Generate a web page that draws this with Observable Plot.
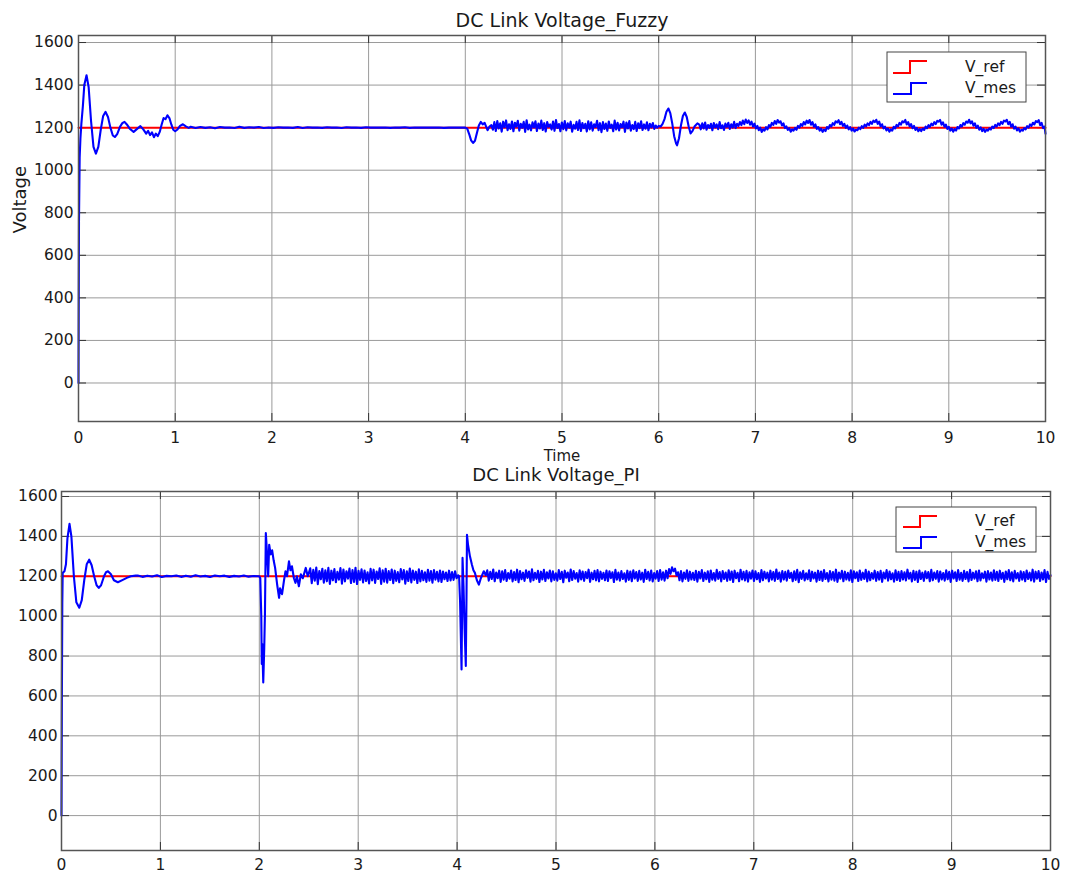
<!DOCTYPE html>
<html><head><meta charset="utf-8">
<script src="https://cdn.jsdelivr.net/npm/d3@7"></script>
<script src="https://cdn.jsdelivr.net/npm/@observablehq/plot@0.6"></script>
<style>
body{margin:0;background:#fff;}
#wrap{position:relative;width:1067px;height:873px;overflow:hidden;background:#fff;font-family:"DejaVu Sans",sans-serif;}
#top,#bot{position:absolute;left:0;}
#top{top:0}
#bot{top:463px}
.leg{position:absolute;left:0;top:0;pointer-events:none}
</style></head><body><div id="wrap"><div id="top"></div><div id="bot"></div></div>
<script>
// ---------- shared ----------
const xTicks = [0,1,2,3,4,5,6,7,8,9,10];
const yTicks = [0,200,400,600,800,1000,1200,1400,1600];
const seriesNames = ["V_ref","V_mes"];
const vRef = 1200;

// ---------- Fuzzy (top) : V_mes ----------
const fuzzyStart = [[0,0],[0.005,760],[0.012,1060],[0.02,1150],[0.03,1220],[0.045,1300],[0.06,1400],[0.083,1446],[0.105,1390],[0.13,1230],[0.155,1110],[0.18,1078],[0.205,1110],[0.23,1190],[0.255,1255],[0.28,1274],[0.305,1250],[0.33,1200],[0.355,1163],[0.376,1156],[0.40,1170],[0.43,1205],[0.455,1222],[0.476,1227],[0.50,1215],[0.53,1195],[0.57,1180],[0.60,1192],[0.64,1207],[0.67,1192],[0.70,1172],[0.72,1185],[0.74,1165],[0.76,1178],[0.78,1155],[0.80,1172],[0.82,1160],[0.84,1180],[0.86,1215],[0.88,1245],[0.90,1240],[0.92,1258],[0.94,1245],[0.96,1215],[0.98,1190],[1.0,1183],[1.02,1190],[1.05,1208],[1.08,1216],[1.11,1206],[1.14,1199]];
const fuzzyQuiet = [1204,1198,1203,1199,1202,1197,1203,1200,1201,1198,1204,1199,1202,1200,1203,1198,1201,1199,1202,1200,1201,1199,1203,1198,1202,1200,1201,1199,1202,1200,1201,1198,1202,1200,1201,1199,1202,1200,1201,1200,1201,1199,1201,1200,1202,1199,1201,1200,1201,1200,1200,1201,1199,1200,1201,1200,1200];
const fuzzyDip = [[4.0,1200],[4.02,1195],[4.04,1170],[4.06,1140],[4.08,1128],[4.10,1138],[4.12,1175],[4.14,1210],[4.16,1227],[4.18,1215],[4.20,1222],[4.23,1188],[4.25,1205]];
const fuzzyNoise = [1212,1190,1226,1184,1231,1196,1220,1181,1228,1202,1234,1188,1216,1194,1229,1183,1223,1205,1232,1186,
1218,1199,1227,1180,1235,1192,1214,1187,1225,1201,1230,1184,1219,1196,1233,1189,1221,1182,1226,1204,
1215,1191,1229,1185,1236,1198,1217,1183,1224,1193,1231,1187,1220,1200,1228,1181,1213,1195,1227,1189,
1234,1184,1222,1197,1218,1182,1230,1192,1225,1186,1216,1203,1232,1188,1221,1179,1226,1194,1219,1185,
1229,1199,1214,1183,1233,1191,1223,1187,1217,1202,1228,1180,1224,1196,1231,1186,1212,1193,1227,1184,
1220,1198,1230,1189,1215,1195,1225,1188,1218,1201,1222,1194,1210,1200,1208];
const fuzzyKick = [[6.02,1205],[6.04,1218],[6.06,1240],[6.08,1275],[6.10,1290],[6.12,1268],[6.14,1220],[6.16,1160],[6.18,1125],[6.19,1117],[6.21,1150],[6.23,1210],[6.25,1255],[6.27,1271],[6.29,1250],[6.31,1205],[6.33,1173],[6.35,1185],[6.37,1205],[6.40,1220]];
const fuzzyRipple = [1214,1192,1220,1196,1224,1190,1212,1199,1218,1188,1222,1201,1215,1193,1226,1197,1211,1189,1219,1204,1223,1194,1216,1200,1227,1198,
1218,1208,1226,1212,1233,1216,1238,1222,
1234,1214,1228,1205,1219,1196,1208,1188,1200,1180,1192,
1186,1202,1192,1212,1204,1222,1213,1231,1218,1236,
1224,1230,1210,1220,1198,1206,1189,1198,1181,1192,
1186,1199,1190,1208,1200,1217,1208,1226,1215,1233,1222,
1236,1214,1226,1204,1215,1194,1203,1186,1195,1180,
1191,1184,1203,1195,1212,1205,1221,1213,1230,1224,
1235,1216,1227,1208,1218,1199,1210,1192,1202,1186,1196,1182,1190,
1188,1200,1193,1207,1199,1214,1206,1220,1212,1227,1218,1233,1226,
1237,1218,1228,1206,1216,1196,1205,1187,1196,1181,
1192,1186,1204,1196,1213,1206,1222,1214,1230,1225,
1236,1215,1226,1206,1217,1197,1208,1189,1199,1183,1193,1184,
1196,1189,1205,1197,1212,1204,1219,1211,1226,1217,1232,1228,
1236,1214,1225,1204,1214,1194,1204,1186,1196,1181,
1193,1186,1203,1196,1212,1205,1221,1214,1229,1223,1237,
1220,1230,1209,1220,1199,1209,1190,1201,1184,1194,1180,1191,
1186,1197,1191,1205,1198,1213,1205,1220,1212,1227,1218,1233,1229,
1237,1216,1227,1205,1216,1195,1205,1187,1197,1181,1190,
1186,1198,1192,1207,1200,1215,1208,1223,1215,1231,1226,
1235,1212,1222,1198,1205];
const fuzzyEnd = [[10,1172]];

// ---------- PI (bottom) : V_mes ----------
const piStart = [[0,0],[0.004,600],[0.008,1058],[0.012,1217],[0.03,1225],[0.045,1260],[0.06,1390],[0.081,1463],[0.10,1400],[0.125,1200],[0.15,1070],[0.18,1042],[0.205,1080],[0.23,1180],[0.255,1260],[0.28,1283],[0.305,1255],[0.33,1200],[0.355,1155],[0.377,1142],[0.40,1155],[0.43,1200],[0.45,1220],[0.47,1225],[0.50,1210],[0.53,1180],[0.57,1170],[0.62,1182],[0.66,1192],[0.70,1200],[0.75,1203]];
const piQuiet = [1204,1197,1203,1199,1205,1196,1202,1200,1204,1197,1203,1198,1205,1199,1202,1196,1204,1200,1203,1197,1202,1199,1204,1198,1201,1200];
const piStep1 = [[2.0,1200],[2.01,1190],[2.02,1000],[2.025,760],[2.03,860],[2.04,667],[2.05,842],[2.057,1010],[2.066,1417],[2.08,1300],[2.09,1200],[2.10,1358],[2.115,1310],[2.13,1330],[2.145,1280],[2.16,1242],[2.18,1160],[2.20,1092],[2.21,1140],[2.23,1110],[2.25,1180],[2.265,1225],[2.28,1200],[2.30,1275],[2.315,1230],[2.33,1250],[2.35,1190],[2.366,1167],[2.38,1200],[2.40,1150],[2.42,1210],[2.44,1190],[2.47,1242],[2.49,1200]];
const piNoise1 = [1215,1240,1165,1232,1178,1244,1160,1226,1185,1238,1168,1230,1175,1242,1162,1228,1180,1236,1170,1222,
1183,1241,1163,1234,1174,1225,1188,1239,1166,1231,1172,1243,1161,1227,1182,1235,1169,1229,1176,1220,
1164,1237,1179,1233,1167,1224,1186,1240,1162,1230,1173,1238,1168,1226,1181,1234,1165,1228,1177,1221,
1170,1236,1184,1231,1163,1225,1176,1239,1169,1229,1182,1223,1166,1235,1174,1227,1180,1220,1172,1233,
1178,1226,1168,1231,1183,1222,1174,1229,1171,1224,1185,1219,1176,1228,1179,1221,1182,1225,1190,1205];
const piStep2 = [[4.02,1200],[4.03,1075],[4.045,733],[4.05,1000],[4.055,1292],[4.065,1150],[4.075,950],[4.088,750],[4.095,1100],[4.10,1408],[4.11,1360],[4.13,1300],[4.15,1258],[4.165,1230],[4.18,1217],[4.20,1180],[4.22,1158],[4.24,1190],[4.27,1225]];
const piNoise2 = [1205,1230,1178,1222,1186,1234,1175,1219,1190,1228,1172,1225,1183,1231,1176,1216,1188,1229,1174,1221,
1181,1233,1170,1226,1185,1218,1177,1230,1192,1224,1173,1235,1180,1217,1187,1227,1171,1223,1184,1232,
1176,1220,1189,1229,1174,1225,1182,1215,1178,1231,1186,1222,1170,1228,1193,1219,1175,1234,1181,1226,
1188,1216,1173,1230,1184,1224,1177,1221,1190,1233,1172,1218,1185,1227,1179,1231,1174,1223,1187,1217,
1180,1229,1176,1225,1191,1220,1171,1232,1183,1219,1178,1226,1186,1215,1173,1228,1182,1224,1175,1230,
1189,1221,1177,1227,1184,1218,1172,1233,1186,1222,1179,1229,1174,1216,1188,1226,1176,1231,1183,1220,
1178,1228,1190,1236,1212,1245,1225,1238,1205,1220,1180,1226,1174,1219,1187,1230,1177,1223,1184,1217,
1181,1227,1173,1222,1189,1231,1176,1218,1185,1225,1172,1229,1183,1216,1178,1232,1187,1221,1174,1226,
1186,1219,1177,1230,1182,1224,1171,1228,1190,1217,1175,1233,1184,1222,1179,1227,1173,1220,1188,1229,
1176,1225,1185,1216,1172,1231,1180,1223,1189,1218,1174,1228,1183,1221,1177,1234,1186,1219,1173,1226,
1184,1222,1178,1229,1191,1217,1175,1225,1182,1232,1170,1220,1187,1227,1179,1215,1185,1230,1176,1223,
1189,1218,1173,1228,1181,1224,1177,1231,1186,1216,1174,1226,1183,1221,1178,1233,1172,1219,1188,1227,
1175,1223,1184,1217,1179,1230,1171,1225,1190,1220,1176,1229,1182,1218,1186,1232,1174,1224,1180,1216,
1187,1228,1177,1221,1183,1227,1172,1219,1189,1231,1178,1224,1185,1215,1173,1230,1181,1222,1176,1226,
1184,1220,1179,1233,1188,1217,1174,1227,1182,1223,1171,1229,1186,1218,1177,1225,1190,1221,1175,1232,
1180,1219,1187,1226,1173,1224,1184,1216,1178,1230,1185,1222,1172,1228,1189,1220,1176,1231,1183,1217,
1177,1227,1186,1221,1174,1232,1181,1218,1188,1225,1175,1229,1179,1215,1190,1223,1173,1226,1184,1219,
1178,1230,1182,1222,1176,1228,1187,1217,1172,1224,1185,1231,1180,1220,1174,1227,1189,1216,1177,1225,
1183,1221,1175,1229,1186,1218,1179,1233,1173,1223,1188,1226,1176,1219,1184,1231,1171,1222,1187,1205];

// spread a run of read-off samples evenly over [t0, t1]
function run(t0, t1, vals) { return vals.map((v, i) => [t0 + (t1 - t0) * i / (vals.length - 1), v]); }
const toRows = pairs => pairs.map(([t, v]) => ({t, v}));

const fuzzyMes = toRows([
  ...fuzzyStart, ...run(1.16, 3.98, fuzzyQuiet), ...fuzzyDip,
  ...run(4.27, 6.0, fuzzyNoise), ...fuzzyKick, ...run(6.42, 9.99, fuzzyRipple), ...fuzzyEnd
]);
const piMes = toRows([
  ...piStart, ...run(0.77, 1.99, piQuiet), ...piStep1,
  ...run(2.5, 4.01, piNoise1), ...piStep2, ...run(4.29, 10, piNoise2)
]);
const refRows = [{t: 0, v: vRef}, {t: 10, v: vRef}];

function panel({mes, title, yDom, height, mL, mR, mT, mB, xPad, yPad, titleDy, titleSize, xLabel, yLabel}) {
  const plotW = 1067 - mL - mR, plotH = height - mT - mB;
  const tl = 8; // inward tick length, px
  const dyU = tl * (yDom[1] - yDom[0]) / plotH;
  const dxU = tl * 10 / plotW;
  const marks = [
    Plot.gridX(xTicks, {stroke: "#9a9a9a", strokeOpacity: 1, strokeWidth: 1}),
    Plot.gridY(yTicks, {stroke: "#9a9a9a", strokeOpacity: 1, strokeWidth: 1}),
    Plot.ruleX(xTicks, {y1: yDom[0], y2: yDom[0] + dyU, stroke: "#333"}),
    Plot.ruleX(xTicks, {y1: yDom[1] - dyU, y2: yDom[1], stroke: "#333"}),
    Plot.ruleY(yTicks, {x1: 0, x2: dxU, stroke: "#333"}),
    Plot.ruleY(yTicks, {x1: 10 - dxU, x2: 10, stroke: "#333"}),
    Plot.axisX(xTicks, {tickSize: 0, tickPadding: xPad, tickFormat: d => String(d), fill: "#1a1a1a", label: null}),
    Plot.axisY(yTicks, {tickSize: 0, tickPadding: yPad, tickFormat: d => String(d), fill: "#1a1a1a", label: null}),
    Plot.line(refRows, {x: "t", y: "v", stroke: "#ff0000", strokeWidth: 2}),
    Plot.line(mes, {x: "t", y: "v", stroke: "#0000ff", strokeWidth: 2.1, strokeLinejoin: "round"}),
    Plot.frame({stroke: "#555", strokeWidth: 1.5}),
    Plot.text([title], {text: d => d, frameAnchor: "top", dy: titleDy, lineAnchor: "bottom", fontSize: titleSize, fill: "#1a1a1a"})
  ];
  if (xLabel) marks.push(Plot.text([xLabel], {text: d => d, frameAnchor: "bottom", dy: 39, lineAnchor: "bottom", fontSize: 15, fill: "#1a1a1a"}));
  if (yLabel) marks.push(Plot.text([yLabel], {text: d => d, frameAnchor: "left", dx: -58, dy: 5, rotate: -90, lineAnchor: "middle", fontSize: 18, fill: "#1a1a1a"}));
  return Plot.plot({
    width: 1067, height,
    marginLeft: mL, marginRight: mR, marginTop: mT, marginBottom: mB,
    x: {domain: [0, 10], label: null},
    y: {domain: yDom, label: null},
    style: {fontFamily: "'DejaVu Sans', sans-serif", fontSize: "15.5px", background: "#fff", color: "#1a1a1a", overflow: "hidden"},
    marks
  });
}

document.getElementById("top").append(panel({
  mes: fuzzyMes, title: "DC Link Voltage_Fuzzy", yDom: [-181, 1633], height: 463,
  mL: 78, mR: 22, mT: 35, mB: 42, xPad: 10, yPad: 5, titleDy: -9, titleSize: 19, xLabel: "Time", yLabel: "Voltage"
}));
document.getElementById("bot").append(panel({
  mes: piMes, title: "DC Link Voltage_PI", yDom: [-175, 1625], height: 410,
  mL: 61, mR: 17, mT: 28, mB: 23, xPad: 8, yPad: 4, titleDy: -11, titleSize: 18
}));

// legends (page coordinates)
const colors = ["#ff0000", "#0000ff"];
function legend(bx, by, bw, bh, rows, tx) {
  const svg = d3.select("#wrap").append("svg").attr("class", "leg").attr("width", 1067).attr("height", 873);
  svg.append("rect").attr("x", bx).attr("y", by).attr("width", bw).attr("height", bh)
    .attr("fill", "#fff").attr("stroke", "#444").attr("stroke-width", 1);
  seriesNames.forEach((name, i) => {
    const [yLow, yHigh, xs] = rows[i];
    svg.append("path").attr("d", `M${xs[0]},${yLow}H${xs[1]}V${yHigh}H${xs[2]}`)
      .attr("fill", "none").attr("stroke", colors[i]).attr("stroke-width", 2);
    svg.append("text").attr("x", tx).attr("y", yLow - 1).text(name)
      .attr("font-family", "'DejaVu Sans', sans-serif").attr("font-size", 15.5).attr("fill", "#1a1a1a");
  });
}
legend(887, 52, 139, 50, [[73, 61, [893, 910, 927]], [94, 83, [893, 911, 927]]], 965);
legend(896, 507, 140, 45, [[527, 516, [903, 920, 937]], [548, 537, [903, 921, 937]]], 975);
</script></body></html>
